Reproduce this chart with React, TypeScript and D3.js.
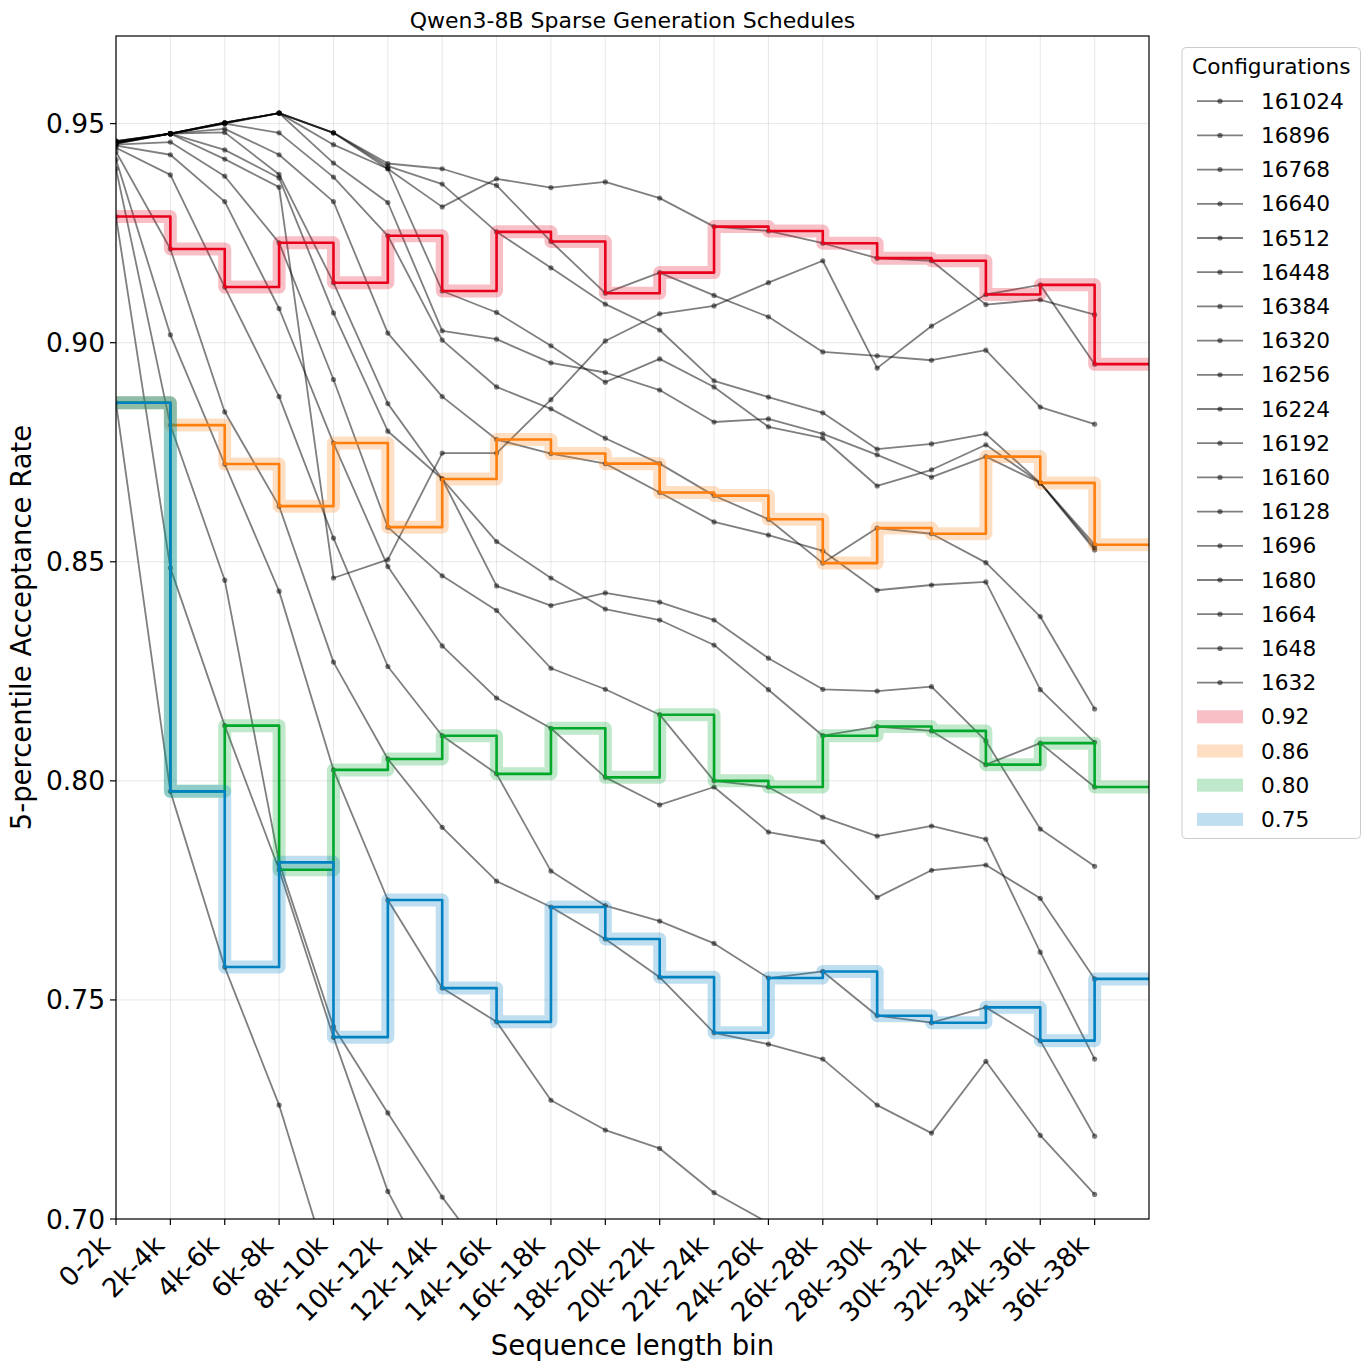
import React from 'react';
import * as d3 from 'd3';

const bins = [
  '0-2k', '2k-4k', '4k-6k', '6k-8k', '8k-10k', '10k-12k', '12k-14k', '14k-16k', '16k-18k', '18k-20k',
  '20k-22k', '22k-24k', '24k-26k', '26k-28k', '28k-30k', '30k-32k', '32k-34k', '34k-36k', '36k-38k',
];

const configNames = [
  '161024', '16896', '16768', '16640', '16512', '16448', '16384', '16320', '16256',
  '16224', '16192', '16160', '16128', '1696', '1680', '1664', '1648', '1632',
];

// 5th-percentile acceptance per bin, one array per config (null = no point drawn)
const s161024 = [0.9460, 0.9477, 0.9502, 0.9524, 0.9479, 0.9397, 0.9310, 0.9374, 0.9354, 0.9367, 0.9330, 0.9265, 0.9255, 0.9227, 0.9193, 0.9187, 0.9087, 0.9098, 0.9064];
const s16896 = [0.9460, 0.9477, 0.9502, 0.9524, 0.9479, 0.9409, 0.9397, 0.9359, 0.9231, 0.9113, 0.9160, 0.9108, 0.9059, 0.8979, 0.8970, 0.8960, 0.8983, 0.8853, 0.8814];
const s16768 = [0.9460, 0.9477, 0.9502, 0.9524, 0.9479, 0.9403, 0.9362, 0.9253, 0.9171, 0.9088, 0.9029, 0.8913, 0.8876, 0.8840, 0.8757, 0.8769, 0.8792, 0.8680, 0.8532];
const s16640 = [0.9458, 0.9477, 0.9502, 0.9524, 0.9452, 0.9397, 0.9118, 0.9069, 0.8993, 0.8910, 0.8963, 0.8899, 0.8808, 0.8782, 0.8673, 0.8710, 0.8767, 0.8680, 0.8539];
const s16512 = [0.9457, 0.9477, 0.9500, 0.9524, 0.9410, 0.9320, 0.9027, 0.9008, 0.8954, 0.8932, 0.8892, 0.8819, 0.8826, 0.8792, 0.8744, 0.8693, 0.8740, 0.8680, 0.8527];
const s16448 = [0.9455, 0.9477, 0.9419, 0.9355, 0.8463, 0.8505, 0.8748, 0.8748, 0.8870, 0.9004, 0.9066, 0.9084, 0.9137, 0.9187, 0.8942, 0.9038, 0.9110, 0.9132, 0.8951];
const s16384 = [0.9457, 0.9477, 0.9500, 0.9479, 0.9378, 0.9244, 0.9006, 0.8899, 0.8849, 0.8782, 0.8724, 0.8651, 0.8597, 0.8497, 0.8577, 0.8564, 0.8498, 0.8375, 0.8164];
const s16320 = [0.9456, 0.9477, 0.9488, 0.9429, 0.9322, 0.9022, 0.8877, 0.8779, 0.8747, 0.8724, 0.8658, 0.8591, 0.8561, 0.8525, 0.8435, 0.8447, 0.8454, 0.8208, 0.8088];
const s16256 = [0.9455, 0.9477, 0.9480, 0.9384, 0.9137, 0.8861, 0.8689, 0.8546, 0.8463, 0.8392, 0.8367, 0.8310, 0.8208, 0.8103, 0.8124, 0.8114, 0.8037, 0.8086, 0.7986];
const s16224 = [0.9454, 0.9477, 0.9440, 0.9376, 0.9068, 0.8798, 0.8689, 0.8445, 0.8400, 0.8429, 0.8408, 0.8367, 0.8280, 0.8209, 0.8205, 0.8215, 0.8091, 0.7890, 0.7805];
const s16192 = [0.9452, 0.9458, 0.9380, 0.9228, 0.8916, 0.8579, 0.8468, 0.8389, 0.8257, 0.8209, 0.8151, 0.8000, 0.7986, 0.7917, 0.7874, 0.7897, 0.7867, 0.7609, 0.7365];
const s16160 = [0.9450, 0.9429, 0.9322, 0.9078, 0.8771, 0.8489, 0.8308, 0.8189, 0.8120, 0.8008, 0.7945, 0.7986, 0.7883, 0.7861, 0.7734, 0.7796, 0.7808, 0.7732, 0.7548];
const s16128 = [0.9445, 0.9383, 0.9127, 0.8877, 0.8554, 0.8261, 0.8103, 0.8016, 0.7794, 0.7715, 0.7680, 0.7629, 0.7550, 0.7565, 0.7464, 0.7448, 0.7483, 0.7407, 0.7189];
const s1696 = [0.9436, 0.9214, 0.8842, 0.8627, 0.8271, 0.8050, 0.7894, 0.7771, 0.7712, 0.7639, 0.7552, 0.7425, 0.7399, 0.7365, 0.7260, 0.7196, 0.7360, 0.7191, 0.7056];
const s1680 = [0.9418, 0.9018, 0.8723, 0.8433, 0.8025, 0.7728, 0.7527, 0.7450, 0.7271, 0.7203, 0.7161, 0.7060, 0.6991, null, null, null, null, null, null];
const s1664 = [0.9397, 0.8812, 0.8458, 0.7814, 0.7439, 0.7242, 0.7050, 0.6884, null, null, null, null, null, null, null, null, null, null, null];
const s1648 = [0.9288, 0.8486, 0.8126, 0.7797, 0.7415, 0.7063, 0.6830, null, null, null, null, null, null, null, null, null, null, null, null];
const s1632 = [0.8863, 0.7976, 0.7575, 0.7260, 0.6856, null, null, null, null, null, null, null, null, null, null, null, null, null, null];

const configSeries: (number | null)[][] = [
  s161024, s16896, s16768, s16640, s16512, s16448, s16384, s16320, s16256,
  s16224, s16192, s16160, s16128, s1696, s1680, s1664, s1648, s1632,
];

// schedule picked per bin for each acceptance target
const targets = ['0.92', '0.86', '0.80', '0.75'];
const targetColors = ['#e8001c', '#ff7f0e', '#00a82a', '#0081c2'];
const sched092 = [0.9288, 0.9214, 0.9127, 0.9228, 0.9137, 0.9244, 0.9118, 0.9253, 0.9231, 0.9113, 0.9160, 0.9265, 0.9255, 0.9227, 0.9193, 0.9187, 0.9110, 0.9132, 0.8951];
const sched086 = [0.8863, 0.8812, 0.8723, 0.8627, 0.8771, 0.8579, 0.8689, 0.8779, 0.8747, 0.8724, 0.8658, 0.8651, 0.8597, 0.8497, 0.8577, 0.8564, 0.8740, 0.8680, 0.8539];
const sched080 = [0.8863, 0.7976, 0.8126, 0.7797, 0.8025, 0.8050, 0.8103, 0.8016, 0.8120, 0.8008, 0.8151, 0.8000, 0.7986, 0.8103, 0.8124, 0.8114, 0.8037, 0.8086, 0.7986];
const sched075 = [0.8863, 0.7976, 0.7575, 0.7814, 0.7415, 0.7728, 0.7527, 0.7450, 0.7712, 0.7639, 0.7552, 0.7425, 0.7550, 0.7565, 0.7464, 0.7448, 0.7483, 0.7407, 0.7548];
const schedules = [sched092, sched086, sched080, sched075];

const W = 1370;
const H = 1372;
const M = { left: 116, right: 1149, top: 36, bottom: 1219 };
const FONT = 'DejaVu Sans, sans-serif';

export default function App() {
  const x = d3.scaleLinear().domain([0, bins.length]).range([M.left, M.right]);
  const y = d3.scaleLinear().domain([0.70, 0.97]).range([M.bottom, M.top]);
  const yTicks = y.ticks(6);
  const fmt = d3.format('.2f');

  const grayLine = d3.line<number | null>()
    .defined(d => d != null)
    .x((_, i) => x(i))
    .y(d => y(d as number));

  // steps-post, extended one bin past the last value
  const stepLine = d3.line<number>()
    .x((_, i) => x(i))
    .y(d => y(d))
    .curve(d3.curveStepAfter);

  const legendX = 1182;
  const legendY = 47.5;
  const rowY = (k: number) => 101.2 + k * 34.2;

  return (
    <svg width={W} height={H} style={{ position: 'absolute', left: 0, top: 0, background: '#fff' }}
      fontFamily={FONT}>
      <defs>
        <clipPath id="plot-clip">
          <rect x={M.left} y={M.top} width={M.right - M.left} height={M.bottom - M.top} />
        </clipPath>
      </defs>
      <rect x={0} y={0} width={W} height={H} fill="#fff" />

      {/* grid */}
      <g stroke="#b0b0b0" strokeOpacity={0.3} strokeWidth={1}>
        {bins.map((_, i) => (
          <line key={'gx' + i} x1={x(i)} x2={x(i)} y1={M.top} y2={M.bottom} />
        ))}
        {yTicks.map(t => (
          <line key={'gy' + t} x1={M.left} x2={M.right} y1={y(t)} y2={y(t)} />
        ))}
      </g>

      <g clipPath="url(#plot-clip)">
        {configSeries.map((s, k) => (
          <g key={configNames[k]}>
            <path d={grayLine(s) || ''} fill="none" stroke="#000" strokeOpacity={0.5} strokeWidth={1.8}
              strokeLinejoin="round" />
            {s.map((v, i) => v == null ? null : (
              <circle key={i} cx={x(i)} cy={y(v)} r={2.6} fill="#000" fillOpacity={0.5} />
            ))}
          </g>
        ))}

        {schedules.map((s, k) => {
          const pts = [...s, s[s.length - 1]];
          const d = stepLine(pts) || '';
          return (
            <g key={targets[k]}>
              <path d={d} fill="none" stroke={targetColors[k]} strokeOpacity={0.25} strokeWidth={13}
                strokeLinejoin="round" strokeLinecap="square" />
              <path d={d} fill="none" stroke={targetColors[k]} strokeWidth={2.6} strokeLinejoin="round" />
            </g>
          );
        })}
      </g>

      {/* frame */}
      <rect x={M.left} y={M.top} width={M.right - M.left} height={M.bottom - M.top}
        fill="none" stroke="#000" strokeWidth={1.2} />

      {/* y axis */}
      {yTicks.map(t => (
        <g key={'yt' + t}>
          <line x1={M.left - 6} x2={M.left} y1={y(t)} y2={y(t)} stroke="#000" strokeWidth={1.2} />
          <text x={M.left - 11} y={y(t)} textAnchor="end" dominantBaseline="central" fontSize={26.5}>
            {fmt(t)}
          </text>
        </g>
      ))}

      {/* x axis */}
      {bins.map((b, i) => (
        <g key={'xt' + b}>
          <line x1={x(i)} x2={x(i)} y1={M.bottom} y2={M.bottom + 6} stroke="#000" strokeWidth={1.2} />
          <text transform={`translate(${x(i) - 4.5},${M.bottom + 28}) rotate(-45)`} textAnchor="end"
            fontSize={26.5}>
            {b}
          </text>
        </g>
      ))}

      <text x={(M.left + M.right) / 2} y={28} textAnchor="middle" fontSize={22}>
        Qwen3-8B Sparse Generation Schedules
      </text>
      <text x={(M.left + M.right) / 2} y={1355} textAnchor="middle" fontSize={27.5}>
        Sequence length bin
      </text>
      <text transform={`translate(31,${(M.top + M.bottom) / 2}) rotate(-90)`} textAnchor="middle" fontSize={27.5}>
        5-percentile Acceptance Rate
      </text>

      {/* legend */}
      <g>
        <rect x={legendX} y={legendY} width={178.5} height={791} rx={4} fill="#fff" fillOpacity={0.8}
          stroke="#cccccc" strokeWidth={1} />
        <text x={legendX + 89.25} y={66} textAnchor="middle" dominantBaseline="central" fontSize={21.7}>
          Configurations
        </text>
        {configNames.map((name, k) => (
          <g key={'lg' + name}>
            <line x1={1197} x2={1243} y1={rowY(k)} y2={rowY(k)} stroke="#000" strokeOpacity={0.5} strokeWidth={1.8} />
            <circle cx={1220} cy={rowY(k)} r={2.6} fill="#000" fillOpacity={0.5} />
            <text x={1261} y={rowY(k)} dominantBaseline="central" fontSize={21.7}>{name}</text>
          </g>
        ))}
        {targets.map((t, j) => {
          const ry = rowY(configNames.length + j);
          return (
            <g key={'lgt' + t}>
              <rect x={1197} y={ry - 6.5} width={46} height={13} fill={targetColors[j]} fillOpacity={0.25} />
              <text x={1261} y={ry} dominantBaseline="central" fontSize={21.7}>{t}</text>
            </g>
          );
        })}
      </g>
    </svg>
  );
}
